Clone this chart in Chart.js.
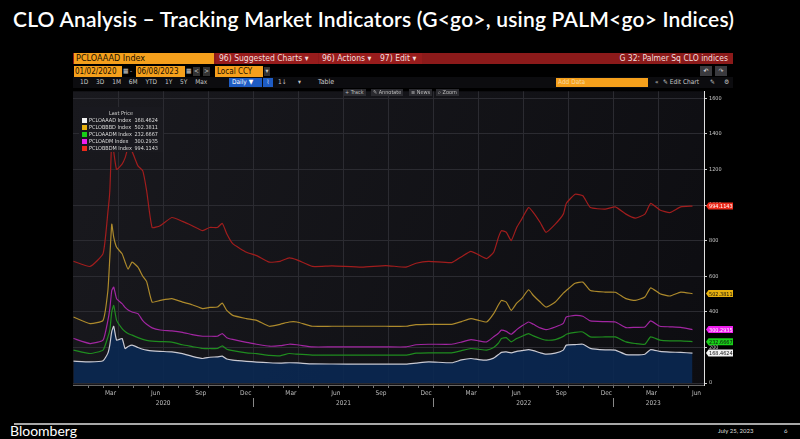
<!DOCTYPE html>
<html>
<head>
<meta charset="utf-8">
<script src="https://cdn.jsdelivr.net/npm/chart.js@4.4.0/dist/chart.umd.min.js"></script>
<style>
  body { margin: 0; width: 800px; height: 439px; background: #000; overflow: hidden; position: relative; font-family: Lato, sans-serif; color: #fff; }
  .a { position: absolute; white-space: nowrap; }
  #title { left: 13px; top: 6px; font-size: 21px; font-weight: 600; letter-spacing: 0.2px; }
  .bb { font-family: "DejaVu Sans Condensed", "DejaVu Sans", sans-serif; }
  #rowA { left: 73px; top: 53px; width: 660px; height: 11px; background: #8c1a1a; }
  .seg { position: absolute; top: 0; height: 11px; font-size: 8.5px; line-height: 11px; color: #f2dede; }
  .orange { background: #f5a01c; color: #1a1000; }
  .box { position: absolute; height: 11px; font-size: 8px; line-height: 11px; }
  .small { font-size: 6.5px; color: #c8c8c8; }
  .gbtn { position: absolute; background: #2a2a2f; color: #bbb; font-size: 5.5px; line-height: 7px; height: 7px; padding: 0 2px; }
  #legend { left: 79px; top: 107px; width: 84px; height: 45px; background: rgba(26,26,31,0.97); font-size: 5.5px; color: #ddd; font-family: "Liberation Sans Narrow", "DejaVu Sans Condensed", sans-serif; }
  #legend .hd { text-align: center; margin-top: 3px; color: #ccc; height: 7px; line-height: 7px; }
  #legend .row { position: relative; height: 7px; line-height: 7px; margin-left: 3px; }
  #legend .sq { position: absolute; left: 0; top: 1px; width: 5px; height: 5px; }
  #legend .nm { position: absolute; left: 7px; }
  #legend .vl { position: absolute; right: 5px; }
  #rule { left: 14px; top: 423px; width: 786px; height: 1.5px; background: #a8a8a8; }
  #foot { left: 10px; top: 422px; font-size: 14px; }
  #date { left: 718px; top: 427px; font-size: 6px; color: #ddd; }
  #page { left: 784px; top: 427px; font-size: 6px; color: #ddd; }
  canvas { position: absolute; left: 60px; top: 86px; }
</style>
</head>
<body>
<div id="title" class="a">CLO Analysis – Tracking Market Indicators (G&lt;go&gt;, using PALM&lt;go&gt; Indices)</div>

<div id="rowA" class="a bb">
  <div class="seg orange" style="left:1px;width:138px;padding-left:2px;font-size:9px;">PCLOAAAD Index</div>
  <div class="seg" style="left:143px;width:99px;padding-left:3px;background:#981c1c;">96) Suggested Charts ▾</div>
  <div class="seg" style="left:246px;width:55px;padding-left:3px;background:#981c1c;">96) Actions ▾</div>
  <div class="seg" style="left:304px;width:42px;padding-left:3px;background:#981c1c;">97) Edit ▾</div>
  <div class="seg" style="right:5px;">G 32: Palmer Sq CLO indices</div>
</div>

<div class="a bb">
  <div class="box orange" style="left:74px;top:66px;width:47px;padding-left:1px;">01/02/2020</div>
  <div class="box small" style="left:123px;top:66px;">▦</div>
  <div class="box small" style="left:130px;top:66px;">-</div>
  <div class="box orange" style="left:136px;top:66px;width:48px;padding-left:1px;">06/08/2023</div>
  <div class="box small" style="left:186px;top:66px;">▦</div>
  <div class="box small" style="left:193px;top:67px;height:9px;line-height:9px;width:7px;background:#333;text-align:center;">&lt;</div>
  <div class="box small" style="left:203px;top:67px;height:9px;line-height:9px;width:7px;background:#333;text-align:center;">&gt;</div>
  <div class="box orange" style="left:215px;top:66px;width:46px;padding-left:2px;">Local CCY</div>
  <div class="box small" style="left:264px;top:67px;height:9px;line-height:9px;width:6px;background:#333;text-align:center;">▾</div>
  <div class="box small" style="left:700px;top:66px;height:10px;line-height:10px;width:12px;background:#3a3a3e;text-align:center;color:#eee;">↶</div>
  <div class="box small" style="left:715px;top:66px;height:10px;line-height:10px;width:12px;background:#3a3a3e;text-align:center;">↷</div>
</div>

<div class="a bb" style="left:73px;top:77px;width:660px;height:11px;background:#0c0c0f;">
  <div class="box small" style="left:7px;top:0;word-spacing:6px;">1D 3D 1M 6M YTD 1Y 5Y Max</div>
  <div class="box" style="left:156px;top:1px;height:9px;line-height:9px;width:30px;background:#1e5cc4;font-size:6.5px;padding-left:3px;">Daily ▼</div>
  <div class="box small" style="left:190px;top:1px;height:9px;line-height:9px;width:10px;background:#1e5cc4;text-align:center;color:#cde;">⌇</div>
  <div class="box small" style="left:205px;top:0;">1↓</div>
  <div class="box small" style="left:225px;top:0;">▾</div>
  <div class="box small" style="left:245px;top:0;font-size:7px;">Table</div>
  <div class="box" style="left:483px;top:1px;height:9px;line-height:9px;width:90px;background:#f5a01c;color:#f8d9a0;font-size:6.5px;padding-left:2px;">Add Data</div>
  <div class="box small" style="left:582px;top:0;">«</div>
  <div class="box small" style="left:590px;top:0;">✎ Edit Chart</div>
  <div class="box small" style="left:637px;top:0;">✎</div>
  <div class="box small" style="left:651px;top:0;">⚙</div>
</div>

<canvas id="chart" width="680" height="324"></canvas>

<div class="a bb">
  <div class="gbtn" style="left:343px;top:89px;">+ Track</div>
  <div class="gbtn" style="left:371px;top:89px;">✎ Annotate</div>
  <div class="gbtn" style="left:409px;top:89px;">≡ News</div>
  <div class="gbtn" style="left:436px;top:89px;">⌕ Zoom</div>
</div>

<div id="legend" class="a">
  <div class="hd">Last Price</div>
</div>

<div id="rule" class="a"></div>
<div id="foot" class="a">Bloomberg</div>
<div id="date" class="a">July 25, 2023</div>
<div id="page" class="a">6</div>

<script>
const dates = ['2020-01-02','2020-02-05','2020-03-01','2020-03-11','2020-03-15','2020-03-19','2020-03-23','2020-03-29',
  '2020-04-09','2020-04-15','2020-04-21','2020-04-29','2020-05-11','2020-05-21','2020-05-29','2020-06-09','2020-06-25',
  '2020-07-19','2020-08-10','2020-08-30','2020-09-20','2020-10-04','2020-10-20','2020-10-30','2020-11-08','2020-11-20',
  '2020-12-18','2021-01-08','2021-02-03','2021-02-23','2021-03-13','2021-03-29','2021-04-29','2021-06-08','2021-08-08',
  '2021-09-26','2021-11-06','2021-11-26','2021-12-22','2022-02-07','2022-02-25','2022-03-16','2022-04-01','2022-04-17',
  '2022-05-01','2022-05-11','2022-05-17','2022-05-27','2022-06-06','2022-06-17','2022-06-27','2022-07-11','2022-07-21',
  '2022-08-04','2022-08-16','2022-09-04','2022-09-20','2022-09-26','2022-10-14','2022-10-30','2022-11-14','2022-12-14',
  '2023-01-04','2023-01-26','2023-02-13','2023-03-03','2023-03-15','2023-04-03','2023-04-23','2023-05-15','2023-06-08'];

const pcloaaad = [123,119,125,168,215,290,319,241,250,194,205,213,200,190,185,181,178,175,165,150,138,145,147,151,135,129,
  122,118,114,112,114,113,108,107,106,106,106,112,119,114,130,138,132,129,140,160,172,175,170,178,182,188,182,170,162,
  168,185,213,216,218,195,186,185,160,158,162,188,178,174,172,168.4624];
const pclobbbd = [371,334,352,520,707,893,820,763,726,680,640,679,651,600,570,455,464,474,455,440,418,425,427,449,408,380,
  362,352,319,330,343,343,319,319,319,319,319,328,330,330,345,362,352,343,390,440,464,455,408,449,474,524,492,455,427,
  455,505,520,561,567,520,511,510,474,464,483,535,502,489,511,502.3811];
const pcloaadm = [185,166,185,259,297,400,436,352,306,290,278,269,255,245,240,236,233,230,215,205,194,194,194,209,190,182,
  170,165,155,153,166,162,157,157,157,157,157,168,170,170,182,194,190,185,200,225,250,255,231,250,262,278,265,250,241,
  244,262,274,285,287,259,259,259,231,222,218,259,241,237,237,232.6667];
const pcloadm = [250,222,241,352,418,520,539,474,446,425,410,399,390,350,330,310,298,293,285,272,263,263,263,278,255,245,
  228,218,207,210,218,215,203,203,203,203,203,215,218,218,230,244,237,231,260,280,297,290,274,300,320,343,330,310,300,
  315,335,371,380,375,349,345,343,311,313,315,349,319,316,313,300.2935];
const pclobbdm = [684,655,727,960,1080,1360,1300,1200,1230,1265,1320,1300,1220,1192,1080,874,884,930,908,884,856,874,874,
  897,839,783,735,716,679,684,703,692,655,658,651,660,651,673,684,677,710,740,720,699,735,820,856,847,800,874,921,986,
  958,902,847,893,949,1009,1061,1052,986,977,990,949,927,949,1009,972,958,990,994.1143];

const names = ['PCLOAAAD Index','PCLOBBBD Index','PCLOAADM Index','PCLOADM Index','PCLOBBDM Index'];
const monthNames = ['Jan','Feb','Mar','Apr','May','Jun','Jul','Aug','Sep','Oct','Nov','Dec'];
const labelMonths = [2,5,8,11];           // Mar, Jun, Sep, Dec
const years = [2020,2021,2022,2023];
const yTicks = [0,200,400,600,800,1000,1200,1400,1600];

// months since 2020-01-01
function toMonths(s) {
  const [y, m, d] = s.split('-').map(Number);
  const dim = new Date(y, m, 0).getDate();
  return (y - 2020) * 12 + (m - 1) + (d - 1) / dim;
}
const xs = dates.map(toMonths);
const xLast = xs[xs.length - 1];
const xEnd = 42;   // axis runs to end of June 2023

// bottom axis ticks: month boundaries (marks) + centred labels
const monthTicks = [];
for (let k = 1; k < xEnd; k++) monthTicks.push({ value: k, label: '', kind: 'edge' });
years.forEach((yr, yi) => labelMonths.forEach(mi => {
  const v = yi * 12 + mi + 0.5;
  if (v < xEnd) monthTicks.push({ value: v, label: monthNames[mi], kind: 'label' });
}));
monthTicks.sort((a, b) => a.value - b.value);

const yearTicks = [];
years.forEach((yr, yi) => {
  const start = yi * 12, end = Math.min(start + 12, xLast);
  if (yi > 0) yearTicks.push({ value: start, label: '', kind: 'sep' });
  yearTicks.push({ value: (start + end) / 2, label: String(yr), kind: 'label' });
});

const series = [
  { data: pcloaaad, line: '#c9c9d2', box: '#f2f2f2', text: '#111', fill: true },
  { data: pclobbbd, line: '#ad8a2c', box: '#e6b00e', text: '#111' },
  { data: pcloaadm, line: '#1f8c1f', box: '#18cf18', text: '#111' },
  { data: pcloadm,  line: '#a126a1', box: '#ee1eee', text: '#fff' },
  { data: pclobbdm, line: '#a11d1d', box: '#ec2a1a', text: '#fff' }
];

// legend rows
const legend = document.getElementById('legend');
series.forEach((s, i) => {
  const row = document.createElement('div');
  row.className = 'row';
  row.innerHTML = `<span class="sq" style="background:${s.box}"></span><span class="nm">${names[i]}</span>` +
    `<span class="vl">${s.data[s.data.length - 1].toFixed(4)}</span>`;
  legend.appendChild(row);
});

const plotBg = {
  id: 'plotBg',
  beforeDraw(chart) {
    const { ctx, chartArea: a } = chart;
    const g = ctx.createLinearGradient(a.left, a.top, a.right, a.bottom);
    g.addColorStop(0, '#19191e');
    g.addColorStop(1, '#0d0d11');
    ctx.save();
    ctx.fillStyle = g;
    ctx.fillRect(a.left, a.top, a.right - a.left, a.bottom - a.top);
    ctx.restore();
  }
};

const lastBoxes = {
  id: 'lastBoxes',
  afterDraw(chart) {
    const { ctx, chartArea: a } = chart;
    const ys = chart.scales.y;
    ctx.save();
    ctx.font = '5.5px "DejaVu Sans Condensed", sans-serif';
    ctx.textBaseline = 'middle';
    series.forEach(s => {
      const v = s.data[s.data.length - 1];
      const py = ys.getPixelForValue(v);
      const x = a.right + 2;
      ctx.fillStyle = s.box;
      ctx.beginPath();
      ctx.moveTo(x, py);
      ctx.lineTo(x + 2.5, py - 3.5);
      ctx.lineTo(x + 27, py - 3.5);
      ctx.lineTo(x + 27, py + 3.5);
      ctx.lineTo(x + 2.5, py + 3.5);
      ctx.closePath();
      ctx.fill();
      ctx.fillStyle = s.text;
      ctx.fillText(v.toFixed(4), x + 3, py + 0.5);
    });
    ctx.restore();
  }
};

new Chart(document.getElementById('chart'), {
  type: 'line',
  data: {
    datasets: series.map((s, i) => ({
      label: names[i],
      data: s.data.map((v, j) => ({ x: xs[j], y: v })),
      borderColor: s.line,
      borderWidth: 1.2,
      pointRadius: 0,
      tension: 0.15,
      fill: s.fill ? 'origin' : false,
      backgroundColor: s.fill ? 'rgba(10,40,82,0.9)' : 'transparent'
    }))
  },
  options: {
    responsive: false,
    animation: false,
    layout: { padding: { left: 13, top: 4, right: 7, bottom: 0 } },
    plugins: { legend: { display: false }, tooltip: { enabled: false } },
    scales: {
      x: {
        type: 'linear',
        min: 0,
        max: xEnd,
        afterBuildTicks: s => { s.ticks = monthTicks.map(t => ({ value: t.value })); },
        afterFit: s => { s.height = 13; },
        ticks: {
          autoSkip: false, maxRotation: 0, padding: 1,
          color: '#bdbdbd', font: { size: 6.5, family: '"DejaVu Sans Condensed", sans-serif' },
          callback: (v, i) => monthTicks[i].label
        },
        grid: {
          color: c => (monthTicks[c.index] && monthTicks[c.index].kind === 'edge' && monthTicks[c.index].value % 3 === 0) ? '#2b2b31' : 'transparent',
          tickColor: c => (monthTicks[c.index] && monthTicks[c.index].kind === 'edge') ? '#777' : 'transparent',
          tickLength: 3, lineWidth: 1
        },
        border: { color: '#666' }
      },
      yr: {
        type: 'linear',
        position: 'bottom',
        min: 0,
        max: xEnd,
        afterBuildTicks: s => { s.ticks = yearTicks.map(t => ({ value: t.value })); },
        afterFit: s => { s.height = 12; },
        ticks: {
          autoSkip: false, maxRotation: 0, padding: -8,
          color: '#bdbdbd', font: { size: 6.5, family: '"DejaVu Sans Condensed", sans-serif' },
          callback: (v, i) => yearTicks[i].label
        },
        grid: {
          drawOnChartArea: false,
          tickColor: c => (yearTicks[c.index] && yearTicks[c.index].kind === 'sep') ? '#888' : 'transparent',
          tickLength: 9
        },
        border: { display: false }
      },
      y: {
        position: 'right',
        min: -11,
        max: 1639,
        afterBuildTicks: s => { s.ticks = yTicks.map(v => ({ value: v })); },
        afterFit: s => { s.width = 29; },
        ticks: { color: '#c8c8c8', padding: 2, font: { size: 5.5, family: '"DejaVu Sans Condensed", sans-serif' },
          callback: v => String(v) },
        grid: { color: '#2b2b31', tickColor: '#ccc', tickLength: 3 },
        border: { color: '#e0e0e0', width: 1 }
      }
    }
  },
  plugins: [plotBg, lastBoxes]
});
</script>
</body>
</html>
